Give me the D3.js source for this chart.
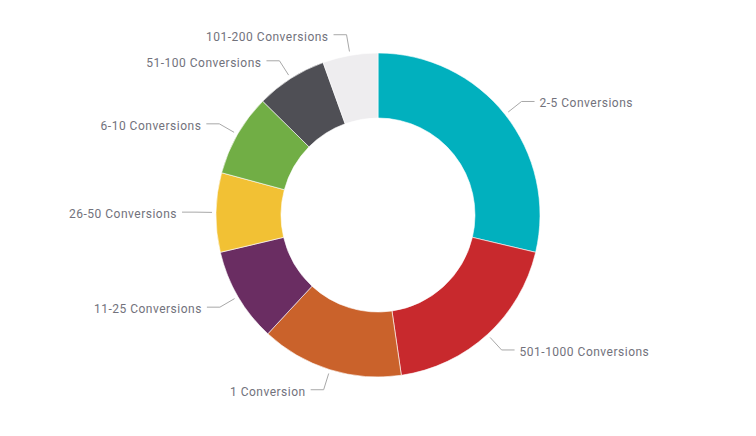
<!DOCTYPE html>
<html>
<head>
<meta charset="utf-8">
<script src="https://cdn.jsdelivr.net/npm/d3@7"></script>
<style>
    body { margin: 0; background: #ffffff; }
</style>
</head>
<body>
<div id="chart"></div>
<script>
// Slices, clockwise from 12 o'clock (share of total, %)
const categories = ["2-5 Conversions", "501-1000 Conversions", "1 Conversion", "11-25 Conversions",
    "26-50 Conversions", "6-10 Conversions", "51-100 Conversions", "101-200 Conversions"];
const shares = [28.7, 19.0, 14.2, 9.4, 7.9, 8.2, 7.1, 5.5];
const colors = ["#01b0be", "#c8292d", "#ca622b", "#6a2d62", "#f2c134", "#71ae45", "#4f4f55", "#eeedef"];

const width = 756, height = 436;
const cx = 378, cy = 215;
const outerR = 162, innerR = 97;

const svg = d3.select("#chart")
    .append("svg")
    .attr("width", width)
    .attr("height", height);

const g = svg.append("g")
    .attr("transform", `translate(${cx},${cy})`);

const data = categories.map((c, i) => ({ name: c, value: shares[i], color: colors[i] }));

const pie = d3.pie().sort(null).value(d => d.value);
const arcs = pie(data);

const arc = d3.arc().innerRadius(innerR).outerRadius(outerR);
const startArc = d3.arc().innerRadius(outerR + 4).outerRadius(outerR + 4);
const elbowArc = d3.arc().innerRadius(outerR + 21).outerRadius(outerR + 21);

// Slices
g.selectAll("path.slice")
    .data(arcs)
    .enter()
    .append("path")
    .attr("class", "slice")
    .attr("d", arc)
    .attr("fill", d => d.data.color)
    .attr("stroke", "#ffffff")
    .attr("stroke-width", 0.6);

// Leader lines: radial stub, then short horizontal run
const mid = d => (d.startAngle + d.endAngle) / 2;
const side = d => (mid(d) < Math.PI ? 1 : -1);

g.selectAll("polyline.leader")
    .data(arcs)
    .enter()
    .append("polyline")
    .attr("class", "leader")
    .attr("fill", "none")
    .attr("stroke", "#a8a8a8")
    .attr("stroke-width", 1)
    .attr("points", d => {
        const a = startArc.centroid(d);
        const b = elbowArc.centroid(d);
        const c = [b[0] + side(d) * 13, b[1]];
        return [a, b, c].map(p => p.join(",")).join(" ");
    });

// Labels
g.selectAll("text.slice-label")
    .data(arcs)
    .enter()
    .append("text")
    .attr("class", "slice-label")
    .attr("x", d => elbowArc.centroid(d)[0] + side(d) * 18)
    .attr("y", d => elbowArc.centroid(d)[1] + 6)
    .attr("font-family", "Roboto, 'DejaVu Sans', sans-serif")
    .attr("font-size", 12)
    .attr("letter-spacing", 0.5)
    .attr("fill", "#72727c")
    .attr("text-anchor", d => side(d) > 0 ? "start" : "end")
    .text(d => d.data.name);
</script>
</body>
</html>
